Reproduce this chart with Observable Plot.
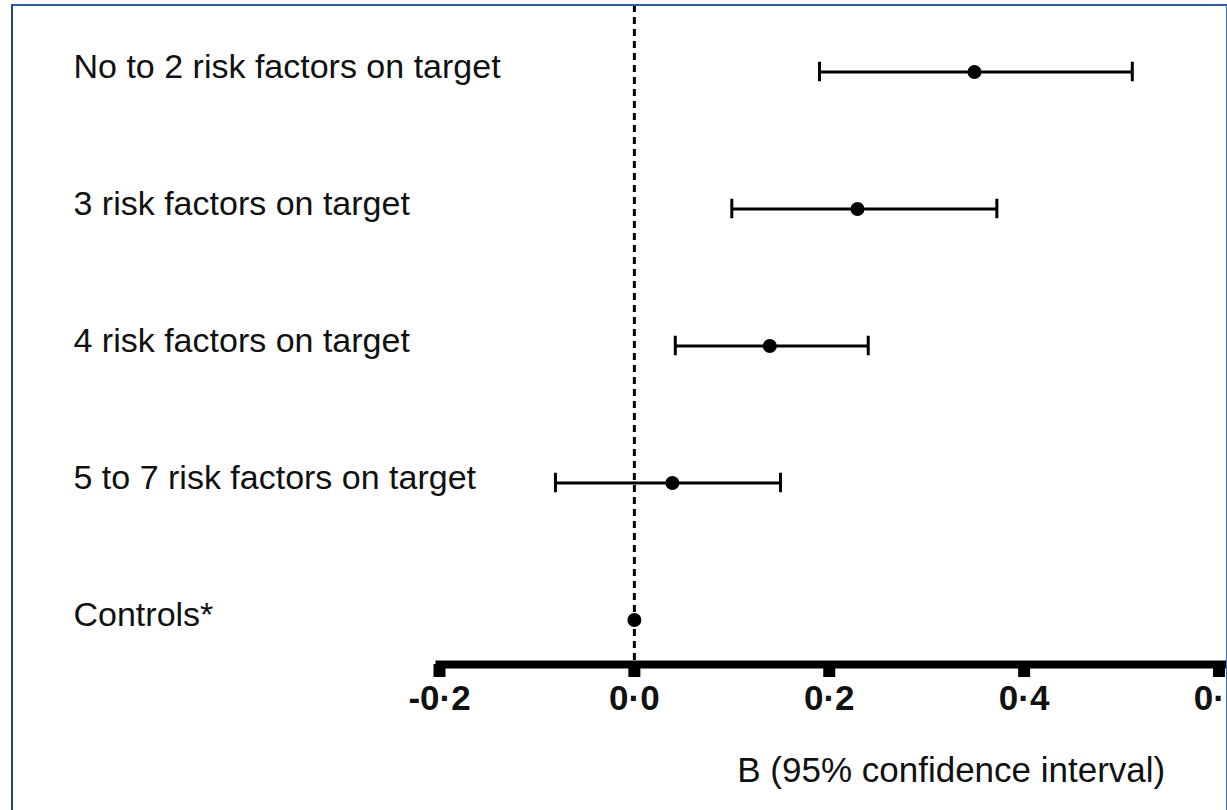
<!DOCTYPE html>
<html>
<head>
<meta charset="utf-8">
<script src="https://cdn.jsdelivr.net/npm/d3@7"></script>
<script src="https://cdn.jsdelivr.net/npm/@observablehq/plot@0.6"></script>
<style>
  html, body { margin: 0; padding: 0; background: #fff; overflow: hidden; }
  #wrap { position: relative; width: 1227px; height: 810px; overflow: hidden; }
  #border { position: absolute; left: 11px; top: 4px; width: 1216px; height: 900px; box-sizing: border-box;
            border-left: 2px solid #0f4c9c; border-top: 2px solid #2a5d9f; border-right: 1px solid #3c6fb0; pointer-events: none; }
</style>
</head>
<body>
<div id="wrap"><div id="border"></div></div>
<script>
const categories = [
  "No to 2 risk factors on target",
  "3 risk factors on target",
  "4 risk factors on target",
  "5 to 7 risk factors on target",
  "Controls*"
];
const estimates = [0.349, 0.229, 0.139, 0.039, 0.0];
const lower = [0.190, 0.100, 0.042, -0.081, null];
const upper = [0.511, 0.372, 0.240, 0.150, null];
const xTicks = [-0.2, 0, 0.2, 0.4, 0.6];
const xLabel = ["B (95% confidence interval)"];

const rows = categories.map((c, i) => ({label: c, est: estimates[i], lo: lower[i], hi: upper[i]}));
const ciRows = rows.filter(d => d.lo != null);
const fmt = d => d.toFixed(1).replace(".", "\u00b7");

const chart = Plot.plot({
  width: 1227,
  height: 810,
  marginLeft: 439,
  marginRight: 8.5,
  marginTop: 5,
  marginBottom: 146,
  style: {fontFamily: "'Liberation Sans', Arial, sans-serif", fontSize: "34px", color: "#111", background: "transparent", overflow: "visible"},
  x: {domain: [-0.2, 0.6], axis: null},
  y: {type: "band", domain: categories, range: [1.25, 688.75], padding: 0, axis: null},
  marks: [
    Plot.ruleX([0], {stroke: "#000", strokeWidth: 3, strokeDasharray: "7,5"}),
    Plot.frame({anchor: "bottom", stroke: "#000", strokeWidth: 8, insetRight: -9}),
    Plot.axisX(xTicks, {tickSize: 13, tickPadding: 8, strokeWidth: 12, stroke: "#000", fontSize: 35, fontWeight: "bold", tickFormat: fmt, label: null}),
    Plot.text(xLabel, {frameAnchor: "bottom", dx: 122, dy: 106, lineAnchor: "middle", fontSize: 35, fill: "#111"}),
    Plot.link(ciRows, {x1: "lo", x2: "hi", y1: "label", y2: "label", stroke: "#000", strokeWidth: 3}),
    Plot.tickX(ciRows, {x: "lo", y: "label", stroke: "#000", strokeWidth: 3, insetTop: 58.75, insetBottom: 58.75}),
    Plot.tickX(ciRows, {x: "hi", y: "label", stroke: "#000", strokeWidth: 3, insetTop: 58.75, insetBottom: 58.75}),
    Plot.dot(rows, {x: "est", y: "label", r: 7, fill: "#000", stroke: null}),
    Plot.text(rows, {y: "label", text: "label", frameAnchor: "left", textAnchor: "start", dx: -366, dy: -5, lineAnchor: "middle", fontSize: 34, fill: "#111"})
  ]
});
document.getElementById("wrap").insertBefore(chart, document.getElementById("border"));
</script>
</body>
</html>
